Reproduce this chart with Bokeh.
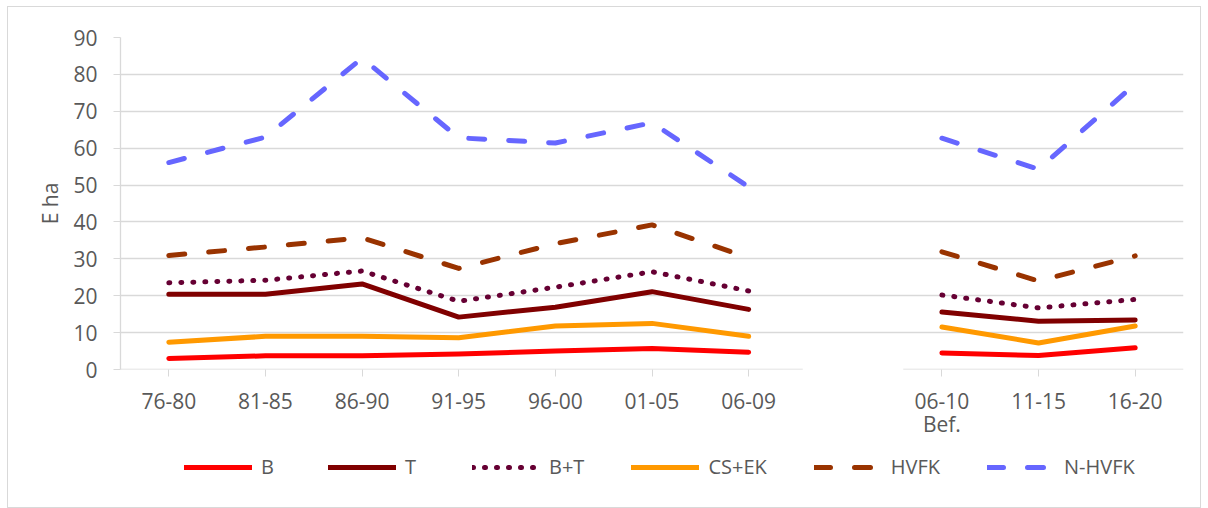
import math
from bokeh.plotting import figure
from bokeh.layouts import column
from bokeh.models import Range1d, FixedTicker, Legend, LegendItem
from bokeh.embed import file_html
from bokeh.resources import INLINE

nan = float("nan")

# ---- data ----
categories = ["76-80", "81-85", "86-90", "91-95", "96-00", "01-05", "06-09",
              "", "06-10\nBef.", "11-15", "16-20"]
gap_index = 7
B = [3.0, 3.7, 3.7, 4.2, 5.0, 5.7, 4.7, nan, 4.5, 3.8, 5.9]
T = [20.4, 20.4, 23.2, 14.2, 16.9, 21.1, 16.3, nan, 15.6, 13.1, 13.4]
BT = [23.5, 24.2, 26.7, 18.5, 22.3, 26.5, 21.3, nan, 20.2, 16.7, 19.0]
CSEK = [7.4, 9.0, 9.0, 8.6, 11.8, 12.5, 9.0, nan, 11.5, 7.2, 11.8]
HVFK = [30.9, 33.2, 35.7, 27.4, 34.1, 39.2, 30.3, nan, 31.9, 24.0, 30.8]
NHVFK = [56.1, 63.0, 84.4, 62.8, 61.4, 66.9, 49.5, nan, 62.7, 54.3, 77.4]
y_ticks = [0, 10, 20, 30, 40, 50, 60, 70, 80, 90]

series = [
    ("B", B, "#FF0000", "solid"),
    ("T", T, "#800000", "solid"),
    ("B+T", BT, "#660033", "1 11"),
    ("CS+EK", CSEK, "#FF9900", "solid"),
    ("HVFK", HVFK, "#993300", "16 24"),
    ("N-HVFK", NHVFK, "#6666FF", "16 24"),
]

GRID = "#d9d9d9"
TXT = "#595959"
FONT = "Open Sans"
W = 1192

xs = list(range(len(categories)))

p = figure(width=W, height=441, output_backend="svg", toolbar_location=None,
           x_range=Range1d(-0.5, len(categories) - 0.5), y_range=Range1d(0, 90),
           min_border_left=112, min_border_right=17, min_border_top=30,
           min_border_bottom=79)
p.outline_line_color = None
p.background_fill_color = "white"
p.border_fill_color = "white"

# grid
p.xgrid.visible = False
p.ygrid.ticker = FixedTicker(ticks=y_ticks[1:])
p.ygrid.grid_line_color = GRID
p.ygrid.grid_line_width = 1.3

# y axis
p.yaxis.ticker = FixedTicker(ticks=y_ticks)
p.yaxis.axis_line_color = GRID
p.yaxis.axis_line_width = 1.3
p.yaxis.major_tick_line_color = GRID
p.yaxis.major_tick_out = 7
p.yaxis.major_tick_in = 0
p.yaxis.minor_tick_line_color = None
p.yaxis.major_label_text_font = FONT
p.yaxis.major_label_text_font_size = "21px"
p.yaxis.major_label_text_color = TXT
p.yaxis.major_label_standoff = 16
p.yaxis.axis_label = "E ha"
p.yaxis.axis_label_text_font = FONT
p.yaxis.axis_label_text_font_size = "21px"
p.yaxis.axis_label_text_font_style = "normal"
p.yaxis.axis_label_text_color = TXT
p.yaxis.axis_label_standoff = 6

# x axis
tick_idx = [i for i in xs if i != gap_index]
p.xaxis.ticker = FixedTicker(ticks=tick_idx)
p.xaxis.major_label_overrides = {i: categories[i] for i in tick_idx}
p.xaxis.axis_line_color = None
p.xaxis.major_tick_line_color = GRID
p.xaxis.major_tick_out = 7
p.xaxis.major_tick_in = 0
p.xaxis.minor_tick_line_color = None
p.xaxis.major_label_text_font = FONT
p.xaxis.major_label_text_font_size = "21px"
p.xaxis.major_label_text_color = TXT
p.xaxis.major_label_text_line_height = 0.85
p.xaxis.major_label_standoff = 10

# broken baseline around the empty category
p.segment(x0=[-0.5, gap_index + 0.6], x1=[gap_index - 0.44, len(categories) - 0.5],
          y0=[0, 0], y1=[0, 0], line_color=GRID, line_width=1.3)

# legend strip (its own small figure; series drawn off-range so only legend shows)
pl = figure(width=W, height=59, output_backend="svg", toolbar_location=None,
            x_axis_location=None, y_axis_location=None,
            x_range=Range1d(1000, 1001), y_range=Range1d(1000, 1001),
            min_border_left=112, min_border_right=17, min_border_top=0,
            min_border_bottom=0)
pl.outline_line_color = None
pl.grid.visible = False

items = []
for name, vals, color, dash in series:
    style = dict(line_color=color, line_width=5, line_dash=dash,
                 line_cap="round", line_join="round")
    p.line(xs, vals, **style)
    r = pl.line(xs, vals, **style)
    items.append(LegendItem(label=name, renderers=[r]))

lg = Legend(items=items, location=(64, 27), orientation="horizontal",
            padding=0, margin=0, spacing=47,
            glyph_width=68, glyph_height=20, label_standoff=9,
            label_text_font=FONT, label_text_font_size="20px",
            label_text_color=TXT,
            border_line_alpha=0, background_fill_alpha=0)
pl.add_layout(lg, "center")

layout = column(p, pl, spacing=0)
layout.styles = {"border": "1px solid #d9d9d9", "margin-left": "7px",
                 "margin-top": "6px"}

open("out.html", "w").write(file_html(layout, INLINE))
